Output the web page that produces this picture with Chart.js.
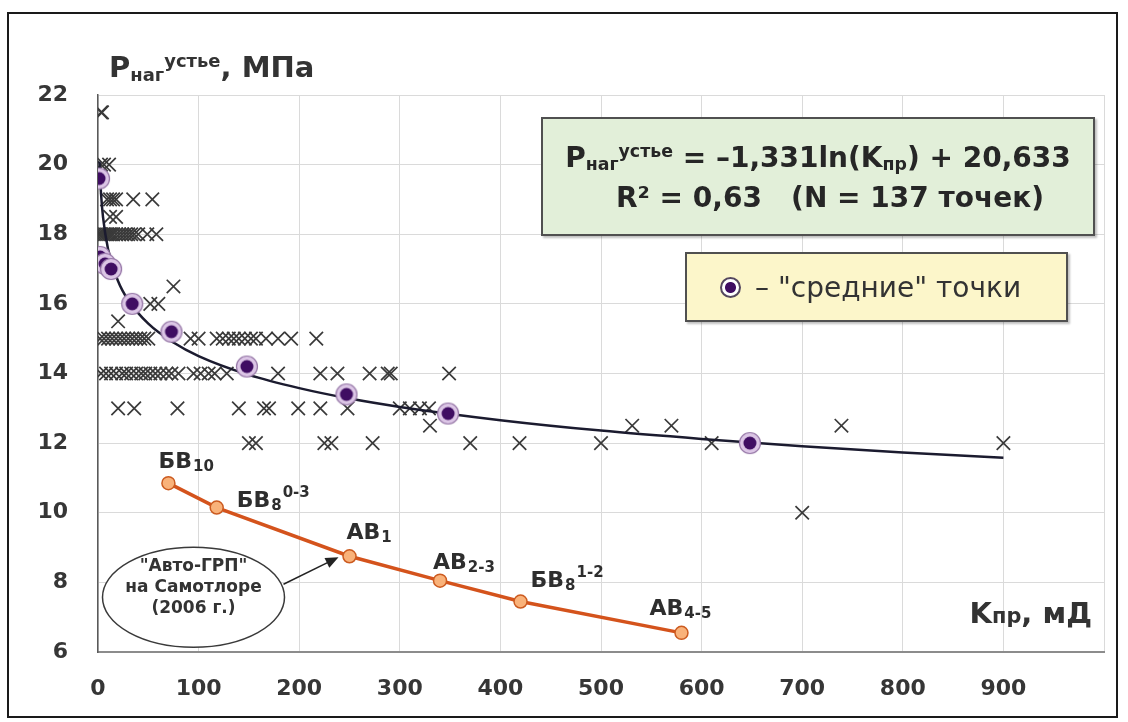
<!DOCTYPE html>
<html lang="ru">
<head>
<meta charset="utf-8">
<title>Давление нагнетания на устье от проницаемости</title>
<script src="https://cdn.jsdelivr.net/npm/chart.js@4.4.1/dist/chart.umd.min.js"></script>
<style>
  html, body { margin: 0; padding: 0; background: #fff; }
  body { width: 1128px; height: 722px; position: relative; overflow: hidden;
         font-family: 'DejaVu Sans', sans-serif; color: #333; }
  #chart { position: absolute; left: 0; top: 0; }
  #frame { position: absolute; left: 7px; top: 12px; width: 1107px; height: 702px;
           border: 2px solid #1a1a1a; pointer-events: none; }
  .ttl { position: absolute; font-weight: bold; line-height: 1; white-space: nowrap; }
  .ttl sub, .box sub { font-size: 0.62em; vertical-align: -0.2em; line-height: 0; }
  .ttl sup, .box sup { font-size: 0.62em; vertical-align: 0.55em; line-height: 0; }
  #ytitle { left: 109px; top: 53px; font-size: 29px; }
  #xtitle { right: 36px; top: 599px; font-size: 29px; }
  #xtitle .small { font-size: 0.72em; }
  .box { position: absolute; box-sizing: border-box; border: 2px solid #505050;
         box-shadow: 2px 2px 2px rgba(0, 0, 0, 0.25); }
  #eqbox { left: 541px; top: 117px; width: 554px; height: 119px; background: #e2efd9;
           font-weight: bold; font-size: 28px; text-align: center; color: #262626; }
  #eqbox .l1 { margin-top: 22px; line-height: 1.2; }
  #eqbox .l2 { margin-top: 6px; line-height: 1.2; padding-left: 24px; }
  #legbox { left: 685px; top: 252px; width: 383px; height: 70px; background: #fcf6ca;
            font-size: 28px; color: #333; display: flex; align-items: center; }
  #legbox .mark { width: 17px; height: 17px; border-radius: 50%; margin: 0 14px 0 33px;
                  border: 2px solid #54475e;
                  background: radial-gradient(circle, #3f0d62 0 5px, #fff 6px); }
</style>
</head>
<body>
<canvas id="chart" width="1128" height="722"></canvas>
<div id="frame"></div>
<div class="ttl" id="ytitle">P<sub>наг</sub><sup>устье</sup>, МПа</div>
<div class="ttl" id="xtitle">K<span class="small">пр</span>, мД</div>
<div class="box" id="eqbox">
  <div class="l1">P<sub>наг</sub><sup>устье</sup> = –1,331ln(K<sub>пр</sub>) + 20,633</div>
  <div class="l2">R² = 0,63&nbsp;&nbsp;&nbsp;(N = 137 точек)</div>
</div>
<div class="box" id="legbox"><span class="mark"></span>– "средние" точки</div>

<script>
// ============================================================
// Data
// ============================================================

// All wells: permeability K (mD) and wellhead injection pressure P (MPa)
const CROSS_K = [
  3, 4,
  3, 6, 11,
  9, 12, 15, 18, 35, 54,
  12, 18,
  1, 2, 3, 5, 7, 9, 11, 13, 15, 18, 21, 24, 27, 30, 33, 36, 40, 49, 58,
  75,
  52, 60,
  20,
  2, 6, 10, 14, 18, 22, 26, 30, 34, 38, 42, 46, 50, 92, 100,
  118, 124, 130, 135, 140, 146, 152, 157, 167, 179, 192, 217,
  3, 8, 13, 18, 24, 28, 33, 38, 43, 47, 52, 57, 62, 68, 73, 80,
  95, 102, 110, 116, 128, 179, 221, 238, 270, 288, 291, 349,
  20, 36, 79, 140, 165, 170, 199, 221, 248, 300, 310, 320, 329,
  330, 531, 570, 739,
  150, 157, 225, 232, 273, 370, 419, 500, 610, 900,
  700,
];
const CROSS_P = [
  21.5, 21.5,
  20, 20, 20,
  19, 19, 19, 19, 19, 19,
  18.5, 18.5,
  18, 18, 18, 18, 18, 18, 18, 18, 18, 18, 18, 18, 18, 18, 18, 18, 18, 18, 18,
  16.5,
  16, 16,
  15.5,
  15, 15, 15, 15, 15, 15, 15, 15, 15, 15, 15, 15, 15, 15, 15,
  15, 15, 15, 15, 15, 15, 15, 15, 15, 15, 15, 15,
  14, 14, 14, 14, 14, 14, 14, 14, 14, 14, 14, 14, 14, 14, 14, 14,
  14, 14, 14, 14, 14, 14, 14, 14, 14, 14, 14, 14,
  13, 13, 13, 13, 13, 13, 13, 13, 13, 13, 13, 13, 13,
  12.5, 12.5, 12.5, 12.5,
  12, 12, 12, 12, 12, 12, 12, 12, 12, 12,
  10,
];

// "средние" (averaged) points
const MEAN_K = [1, 2, 7, 13, 34, 73, 148, 247, 348, 648];
const MEAN_P = [19.6, 17.35, 17.15, 17.0, 16.0, 15.2, 14.2, 13.4, 12.85, 12.0];

// Log trend line
const TREND_K = [1.5, 2, 3, 5, 10, 20, 30, 50, 75, 100, 150, 200, 250, 300, 400, 500, 600, 700, 800, 900];
const TREND_P = [20.09, 19.71, 19.17, 18.49, 17.57, 16.65, 16.11, 15.43, 14.89, 14.5,
                 13.96, 13.58, 13.28, 13.04, 12.66, 12.36, 12.12, 11.91, 11.73, 11.58];

// "Авто-ГРП" на Самотлоре (2006 г.)
const GRP_K = [70, 118, 250, 340, 420, 580];
const GRP_P = [10.85, 10.15, 8.75, 8.05, 7.45, 6.55];
const GRP_NAMES = [
  { base: 'БВ', sub: '10', sup: '' },
  { base: 'БВ', sub: '8', sup: '0-3' },
  { base: 'АВ', sub: '1', sup: '' },
  { base: 'АВ', sub: '2-3', sup: '' },
  { base: 'БВ', sub: '8', sup: '1-2' },
  { base: 'АВ', sub: '4-5', sup: '' },
];

const X_MIN = 0, X_MAX = 1000, X_STEP = 100;
const Y_MIN = 6, Y_MAX = 22, Y_STEP = 2;

const CALLOUT_LINES = ['"Авто-ГРП"', 'на Самотлоре', '(2006 г.)'];

// ============================================================
// Styles
// ============================================================

const FONT = "'DejaVu Sans', sans-serif";
const TEXT_COLOR = '#363636';
const GRID_COLOR = '#dadada';

// label offsets from each orange point (px): [dx, dy of baseline]
const GRP_LABEL_OFFSET = [[-10, -15], [20, -1], [-3, -17], [-7, -12], [10, -15], [-32, -18]];

function toPoints(xs, ys) {
  return xs.map((x, i) => ({ x, y: ys[i] }));
}

// averaged-point marker: lavender halo with a dark purple core
function makeMeanMarker() {
  const c = document.createElement('canvas');
  c.width = 24; c.height = 24;
  const g = c.getContext('2d');
  g.beginPath();
  g.arc(12, 12, 10.5, 0, Math.PI * 2);
  g.fillStyle = '#dcc6e6';
  g.fill();
  g.lineWidth = 1.2;
  g.strokeStyle = '#9576a6';
  g.stroke();
  g.beginPath();
  g.arc(12, 12, 6.5, 0, Math.PI * 2);
  g.fillStyle = '#3f0d62';
  g.fill();
  return c;
}

// ============================================================
// Plugins
// ============================================================

function drawRich(ctx, x, y, item) {
  ctx.font = `bold 22px ${FONT}`;
  ctx.fillText(item.base, x, y);
  x += ctx.measureText(item.base).width + 1;
  if (item.sub) {
    ctx.font = `bold 15px ${FONT}`;
    ctx.fillText(item.sub, x, y + 3);
    x += ctx.measureText(item.sub).width + 1;
  }
  if (item.sup) {
    ctx.font = `bold 15px ${FONT}`;
    ctx.fillText(item.sup, x, y - 10);
  }
}

const grpLabels = {
  id: 'grpLabels',
  afterDatasetsDraw(chart) {
    const meta = chart.getDatasetMeta(0);
    const ctx = chart.ctx;
    ctx.save();
    ctx.fillStyle = '#2e2e2e';
    ctx.textBaseline = 'alphabetic';
    ctx.textAlign = 'left';
    meta.data.forEach((pt, i) => {
      const [dx, dy] = GRP_LABEL_OFFSET[i];
      drawRich(ctx, pt.x + dx, pt.y + dy, GRP_NAMES[i]);
    });

    // callout ellipse with an arrow to the АВ1 point
    const target = meta.data[2];
    const cx = target.x - 156, cy = target.y + 41;
    ctx.beginPath();
    ctx.ellipse(cx, cy, 91, 50, 0, 0, Math.PI * 2);
    ctx.fillStyle = '#fff';
    ctx.fill();
    ctx.lineWidth = 1.5;
    ctx.strokeStyle = '#3a3a3a';
    ctx.stroke();

    const sx = cx + 90, sy = cy - 13;
    const tx = target.x - 11, ty = target.y + 1;
    const ang = Math.atan2(ty - sy, tx - sx);
    ctx.beginPath();
    ctx.moveTo(sx, sy);
    ctx.lineTo(tx - 10 * Math.cos(ang), ty - 10 * Math.sin(ang));
    ctx.strokeStyle = '#222';
    ctx.lineWidth = 1.5;
    ctx.stroke();
    ctx.beginPath();
    ctx.moveTo(tx, ty);
    ctx.lineTo(tx - 14 * Math.cos(ang - 0.4), ty - 14 * Math.sin(ang - 0.4));
    ctx.lineTo(tx - 14 * Math.cos(ang + 0.4), ty - 14 * Math.sin(ang + 0.4));
    ctx.closePath();
    ctx.fillStyle = '#222';
    ctx.fill();

    ctx.fillStyle = '#333';
    ctx.textAlign = 'center';
    ctx.font = `bold 17px ${FONT}`;
    CALLOUT_LINES.forEach((line, i) => {
      ctx.fillText(line, cx, cy - 26 + i * 21);
    });
    ctx.restore();
  },
};

// ============================================================
// Chart
// ============================================================

const tickFont = { family: FONT, size: 22, weight: 'bold' };

new Chart(document.getElementById('chart'), {
  type: 'scatter',
  data: {
    datasets: [
      {
        label: 'Авто-ГРП',
        data: toPoints(GRP_K, GRP_P),
        showLine: true,
        borderColor: '#d4531c',
        borderWidth: 3.5,
        pointRadius: 6.5,
        pointBackgroundColor: '#f9b27a',
        pointBorderColor: '#cc5b20',
        pointBorderWidth: 1.5,
      },
      {
        label: 'средние точки',
        data: toPoints(MEAN_K, MEAN_P),
        pointStyle: makeMeanMarker(),
      },
      {
        label: 'тренд',
        data: toPoints(TREND_K, TREND_P),
        showLine: true,
        borderColor: '#1b1b2f',
        borderWidth: 2.5,
        pointRadius: 0,
        cubicInterpolationMode: 'monotone',
      },
      {
        label: 'скважины',
        data: toPoints(CROSS_K, CROSS_P),
        pointStyle: 'crossRot',
        pointRadius: 9.5,
        borderColor: '#3a3a3a',
        borderWidth: 1.7,
      },
    ],
  },
  options: {
    responsive: false,
    animation: false,
    events: [],
    layout: { padding: { top: 95, right: 15, left: 0, bottom: 0 } },
    plugins: { legend: { display: false }, tooltip: { enabled: false } },
    scales: {
      x: {
        type: 'linear',
        min: X_MIN,
        max: X_MAX,
        afterFit: (s) => { s.height = 70; },
        ticks: {
          stepSize: X_STEP,
          padding: 24,
          color: TEXT_COLOR,
          font: tickFont,
          maxRotation: 0,
          callback: (v) => (v === X_MAX ? '' : v),
        },
        grid: { color: GRID_COLOR, drawTicks: false },
        border: { color: '#8c8c8c', width: 2 },
      },
      y: {
        min: Y_MIN,
        max: Y_MAX,
        afterFit: (s) => { s.width = 98; },
        ticks: { stepSize: Y_STEP, padding: 30, color: TEXT_COLOR, font: tickFont },
        grid: { color: GRID_COLOR, drawTicks: false },
        border: { color: '#5a5a5a', width: 1.5 },
      },
    },
  },
  plugins: [grpLabels],
});
</script>
</body>
</html>
